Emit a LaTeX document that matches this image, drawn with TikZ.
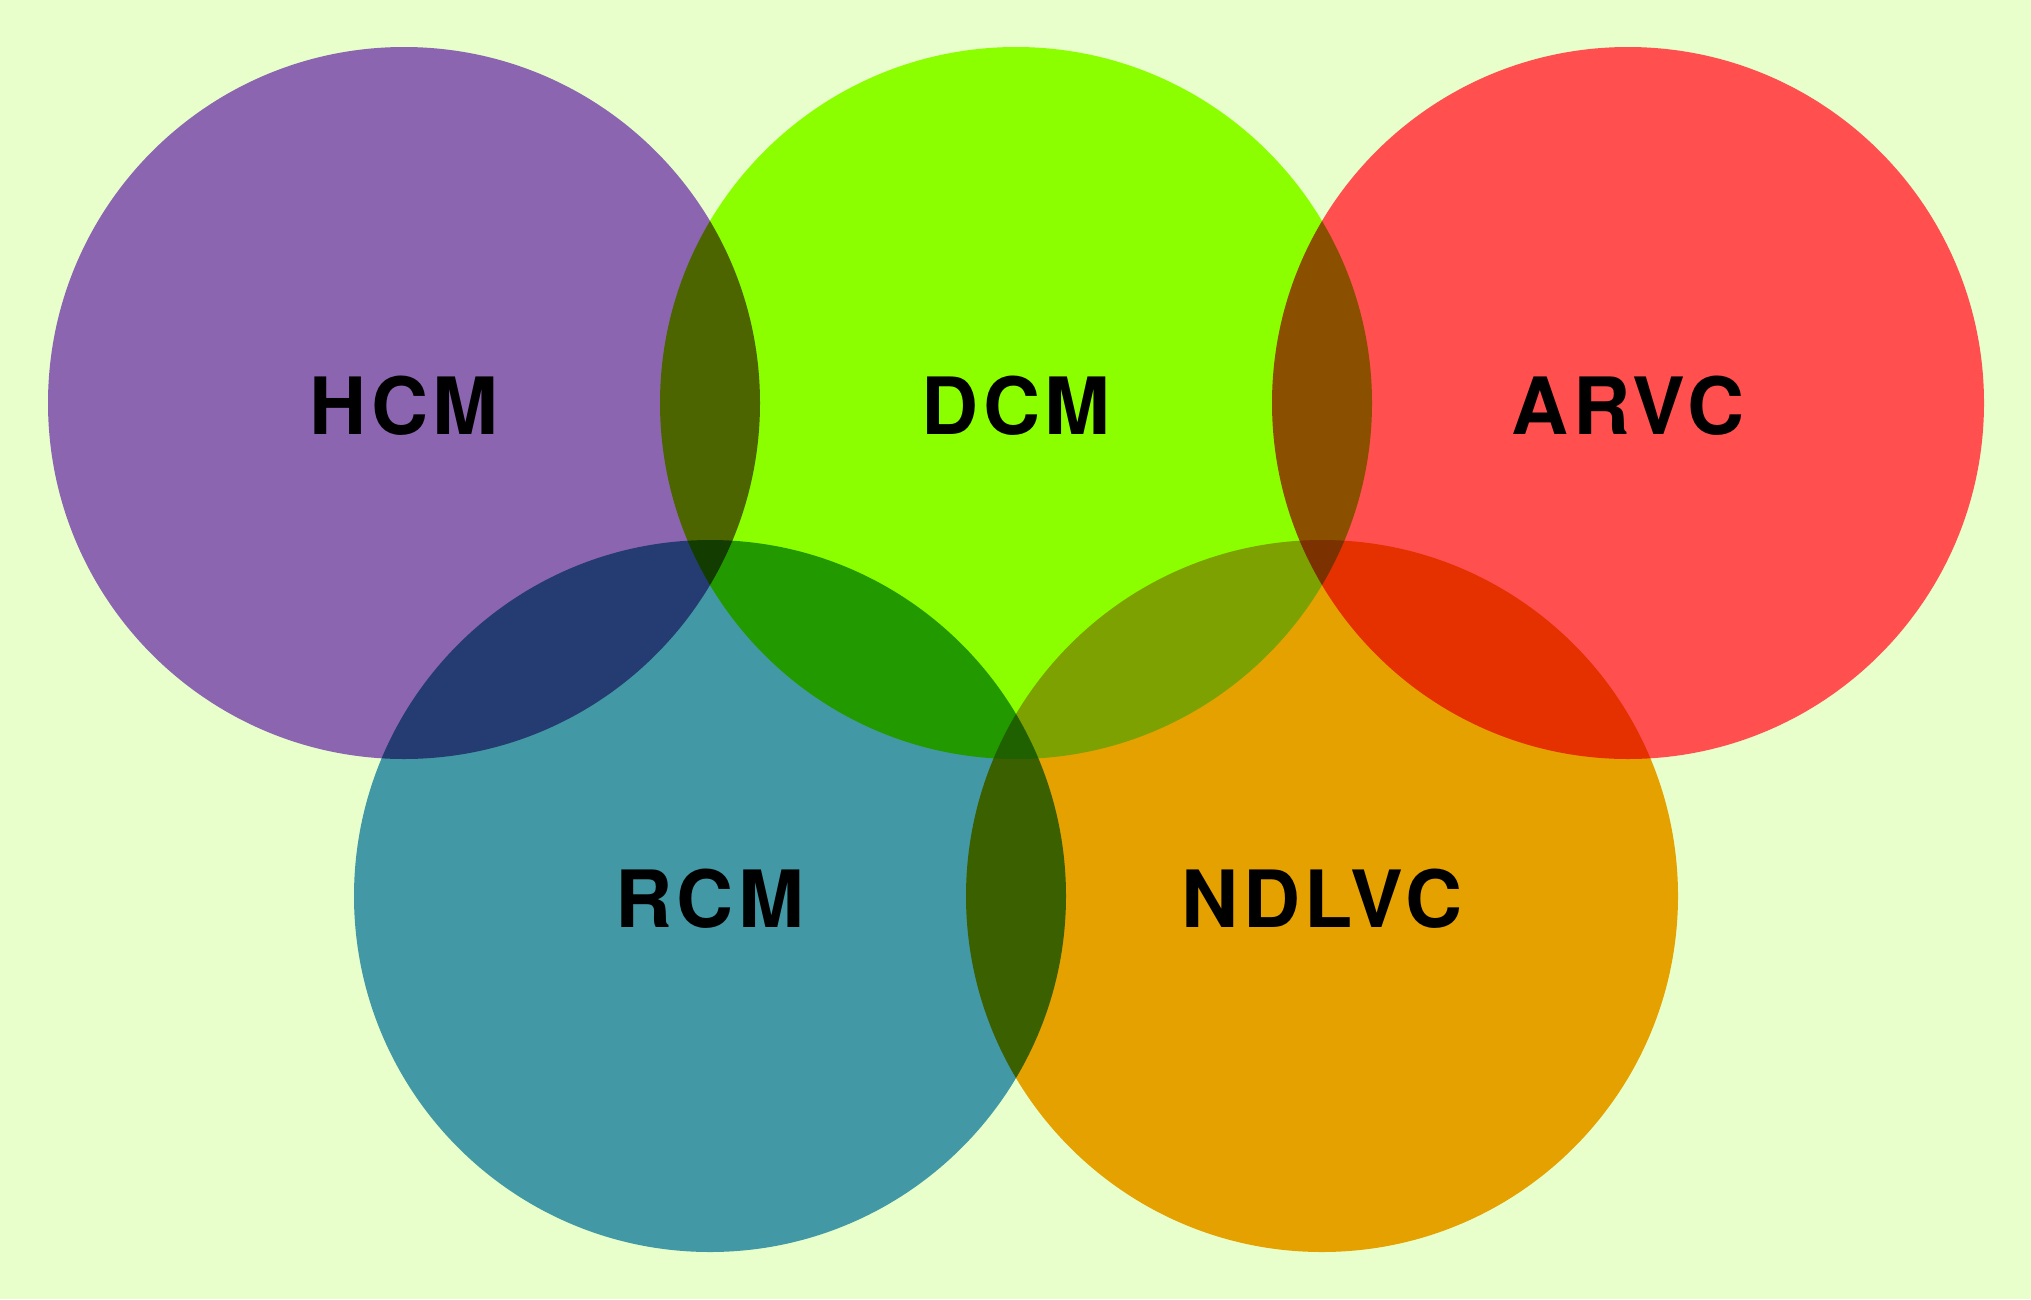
\documentclass[tikz,border=0pt]{standalone}
\usepackage{fontspec}
\setmainfont{TeX Gyre Heros}
\newfontfamily\setfont[LetterSpace=6]{TeX Gyre Heros}
\usetikzlibrary{positioning}
\definecolor{bgcolor}{HTML}{E8FFCC}
\definecolor{hcmcolor}{HTML}{8C65B0}
\definecolor{dcmcolor}{HTML}{8BFF00}
\definecolor{arvccolor}{HTML}{FF4F4E}
\definecolor{rcmcolor}{HTML}{4299A5}
\definecolor{ndlvccolor}{HTML}{E5A100}

\begin{document}
\begin{tikzpicture}
[x=1pt, y=-1pt,
 setcircle/.style={circle, draw=none, inner sep=0pt, minimum size=712pt,
  node distance=612pt, on grid, text height=62pt, text depth=0pt,
  font=\setfont\bfseries\fontsize{79}{79}\selectfont}]
  \fill[bgcolor] (0,0) rectangle (2031,1299);
  \begin{scope}[transparency group]
  \begin{scope}[blend mode=multiply]
  \node[setcircle, fill=hcmcolor] (HCM) at (404,403) {HCM};
  \node[setcircle, fill=dcmcolor, right=of HCM] (DCM) {DCM};
  \node[setcircle, fill=arvccolor, right=of DCM] (ARVC) {ARVC};
  \node[setcircle, fill=rcmcolor, below right=493pt and 306pt of HCM] (RCM) {RCM};
  \node[setcircle, fill=ndlvccolor, right=of RCM] (NDLVC) {NDLVC};
  \end{scope}
  \end{scope}
\end{tikzpicture}
\end{document}
